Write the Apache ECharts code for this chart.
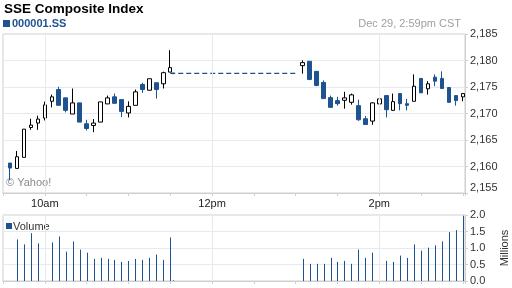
<!DOCTYPE html>
<html><head><meta charset="utf-8">
<script src="https://cdn.jsdelivr.net/npm/echarts@6/dist/echarts.min.js"></script>
<style>html,body{margin:0;padding:0;background:#fff}#c{width:512px;height:288px}</style>
</head><body><div id="c"></div>
<script>
// 5-minute bars (time of bar)
const times = ['9:35','9:40','9:45','9:50','9:55','10:00','10:05','10:10','10:15','10:20','10:25','10:30','10:35','10:40','10:45','10:50','10:55','11:00','11:05','11:10','11:15','11:20','11:25','11:30','11:32',
  '13:05','13:10','13:15','13:20','13:25','13:30','13:35','13:40','13:45','13:50','13:55','14:00','14:05','14:10','14:15','14:20','14:25','14:30','14:35','14:40','14:45','14:50','14:55','15:00'];
const open  = [2160.65,2159.64,2161.73,2167.36,2168.19,2169.14,2172.30,2174.52,2172.95,2169.90,2172.00,2168.06,2167.74,2168.38,2171.81,2173.14,2172.62,2170.10,2171.54,2175.48,2174.39,2175.80,2175.61,2177.81,2177.62,
  2179.03,2179.85,2177.95,2175.86,2173.00,2172.43,2172.49,2172.11,2171.48,2169.01,2168.57,2171.81,2173.38,2170.59,2173.76,2171.86,2172.30,2176.62,2174.66,2176.86,2176.62,2174.90,2173.38,2173.14];
const close = [2159.70,2161.84,2167.05,2167.81,2168.95,2171.62,2173.14,2171.54,2170.59,2172.00,2168.38,2167.17,2168.19,2172.19,2172.95,2171.92,2170.40,2171.35,2174.09,2174.52,2176.56,2174.52,2177.70,2178.65,2177.52,
  2179.60,2176.43,2175.29,2172.81,2171.16,2171.86,2172.95,2173.52,2168.82,2167.93,2172.00,2172.76,2170.72,2172.24,2171.86,2171.54,2175.15,2173.90,2175.61,2176.10,2174.71,2172.11,2172.43,2173.76];
const low   = [2157.41,2159.64,2161.73,2166.92,2166.92,2168.69,2171.16,2171.54,2170.21,2169.90,2168.38,2166.79,2166.48,2168.38,2171.81,2171.92,2169.33,2169.26,2171.54,2173.90,2174.39,2172.81,2174.71,2177.81,2177.52,
  2177.51,2176.29,2175.15,2172.81,2171.16,2171.48,2170.91,2171.67,2168.63,2167.93,2167.87,2171.16,2169.26,2170.59,2170.59,2170.59,2172.30,2173.90,2173.57,2175.15,2174.71,2172.11,2171.48,2172.30];
const high  = [2160.65,2162.93,2167.05,2169.01,2169.58,2172.24,2173.57,2175.04,2172.95,2174.71,2172.00,2168.82,2168.95,2172.19,2173.38,2173.76,2172.62,2172.30,2174.52,2175.80,2176.56,2175.80,2177.89,2181.94,2177.62,
  2180.04,2179.85,2177.95,2176.24,2173.38,2173.14,2174.09,2173.76,2172.62,2169.52,2172.11,2173.38,2173.38,2173.76,2173.76,2172.76,2177.38,2176.62,2176.10,2177.38,2177.95,2174.90,2173.38,2173.76];
// volume in millions
const volume = [null,1.26,1.11,1.45,1.14,1.17,1.17,1.35,0.89,1.20,0.95,0.86,0.67,0.70,0.67,0.64,0.58,0.61,0.67,0.64,0.70,0.80,0.64,1.32,0.02,
  0.67,0.52,0.52,0.52,0.70,0.58,0.61,0.52,0.95,0.70,0.86,0.86,0.61,0.58,0.77,0.70,1.11,0.92,1.01,1.08,1.20,1.48,1.54,1.98];
// lunch-break previous close line
const breakTimes = ['11:30','13:00'];
const breakLevel = 2177.57;
// axis labels
const xLabelTimes = ['10:00','12:00','14:00'];
const xLabelNames = ['10am','12pm','2pm'];

const BLUE = '#1f5390';
const toMin = s => { const [h,m] = s.split(':').map(Number); return h*60+m; };
const xs = times.map(toMin);
const labelMap = {};
xLabelTimes.forEach((t,i)=>{ labelMap[toMin(t)] = xLabelNames[i]; });
const candles = xs.map((x,i)=>[x, open[i], close[i], low[i], high[i]]);
const vols = xs.map((x,i)=>[x, volume[i] == null ? '-' : volume[i]]);
const vlines = xLabelTimes.map(t=>({xAxis: toMin(t)}));
const gridColor = '#e5eaf1';
const axisColor = '#cfcfcf';
const font = 'Liberation Sans, Arial, sans-serif';

function renderVolume(params, api) {
  const x = api.value(0), v = api.value(1);
  if (!isFinite(v)) return null;
  const p0 = api.coord([x, 0]);
  const p1 = api.coord([x, v]);
  const px = Math.round(p0[0]) + 0.5;
  return {type: 'line', shape: {x1: px, y1: p0[1], x2: px, y2: p1[1]},
          style: {stroke: BLUE, lineWidth: 1}};
}

const chart = echarts.init(document.getElementById('c'));
chart.setOption({
  animation: false,
  textStyle: {fontFamily: font},
  grid: [
    {left: 3, top: 34, width: 462, height: 159, show: true, borderColor: axisColor, borderWidth: 1,
     containLabel: false, outerBoundsMode: 'none'},
    {left: 3, top: 215, width: 462, height: 66, show: true, borderColor: axisColor, borderWidth: 1,
     containLabel: false, outerBoundsMode: 'none'}
  ],
  xAxis: [
    {type: 'value', gridIndex: 0, min: 570, max: 901.5, interval: 30,
     axisLine: {show: true, lineStyle: {color: axisColor}},
     axisTick: {show: true, length: 3, lineStyle: {color: axisColor}},
     splitLine: {show: false},
     axisLabel: {margin: 5, fontSize: 11, color: '#222', fontFamily: font, formatter: v => labelMap[v] || ''}},
    {type: 'value', gridIndex: 1, min: 570, max: 901.5, interval: 30,
     axisLine: {show: true, lineStyle: {color: axisColor}},
     axisTick: {show: true, length: 3, lineStyle: {color: axisColor}},
     splitLine: {show: false},
     axisLabel: {show: false}}
  ],
  yAxis: [
    {type: 'value', gridIndex: 0, position: 'right', min: 2155, max: 2185, interval: 5,
     axisLine: {show: true, lineStyle: {color: axisColor}},
     axisTick: {show: true, length: 3, lineStyle: {color: axisColor}},
     splitLine: {show: true, lineStyle: {color: gridColor}},
     axisLabel: {margin: 5, fontSize: 11, color: '#333', fontFamily: font, verticalAlignMinLabel: 'bottom',
       formatter: v => v.toLocaleString('en-US')}},
    {type: 'value', gridIndex: 1, position: 'right', min: 0, max: 2, interval: 0.5,
     name: 'Millions', nameLocation: 'middle', nameRotate: 90, nameGap: 34,
     nameTextStyle: {fontSize: 11, color: '#333', fontFamily: font},
     axisLine: {show: true, lineStyle: {color: axisColor}},
     axisTick: {show: true, length: 3, lineStyle: {color: axisColor}},
     splitLine: {show: true, lineStyle: {color: gridColor}},
     axisLabel: {margin: 5, fontSize: 11, color: '#333', fontFamily: font, formatter: v => v.toFixed(1)}}
  ],
  series: [
    {type: 'line', xAxisIndex: 0, yAxisIndex: 0, z: 1,
     data: breakTimes.map(t => [toMin(t), breakLevel]),
     showSymbol: false, symbol: 'none',
     lineStyle: {color: BLUE, width: 1.2, type: [5, 3]},
     markLine: {silent: true, symbol: ['none','none'], label: {show: false},
       lineStyle: {color: gridColor, type: 'solid', width: 1}, data: vlines}},
    {type: 'candlestick', xAxisIndex: 0, yAxisIndex: 0, z: 3,
     data: candles, encode: {x: 0, y: [1,2,3,4]}, barWidth: 4,
     itemStyle: {color: '#ffffff', color0: BLUE, borderColor: '#000000', borderColor0: BLUE, borderWidth: 1}},
    {type: 'custom', xAxisIndex: 1, yAxisIndex: 1, z: 2,
     data: vols, encode: {x: 0, y: 1}, renderItem: renderVolume,
     markLine: {silent: true, symbol: ['none','none'], label: {show: false},
       lineStyle: {color: gridColor, type: 'solid', width: 1}, data: vlines}}
  ],
  graphic: [
    {type: 'text', left: 4, top: 2, style: {text: 'SSE Composite Index', font: 'bold 13.5px ' + font, fill: '#000'}},
    {type: 'rect', shape: {x: 3, y: 20, width: 7, height: 7}, style: {fill: BLUE}},
    {type: 'text', left: 12, top: 18, style: {text: '000001.SS', font: 'bold 11px ' + font, fill: BLUE}},
    {type: 'text', right: 51, top: 18, style: {text: 'Dec 29, 2:59pm CST', font: '11px ' + font, fill: '#a0a0a0'}},
    {type: 'text', left: 6, top: 177, style: {text: '\u00a9 Yahoo!', font: '11px ' + font, fill: '#8a8a8a'}},
    {type: 'rect', shape: {x: 6, y: 223, width: 6, height: 6}, style: {fill: BLUE}},
    {type: 'text', left: 13, top: 221, style: {text: 'Volume', font: '11px ' + font, fill: '#333'}}
  ]
});
</script>
</body></html>
